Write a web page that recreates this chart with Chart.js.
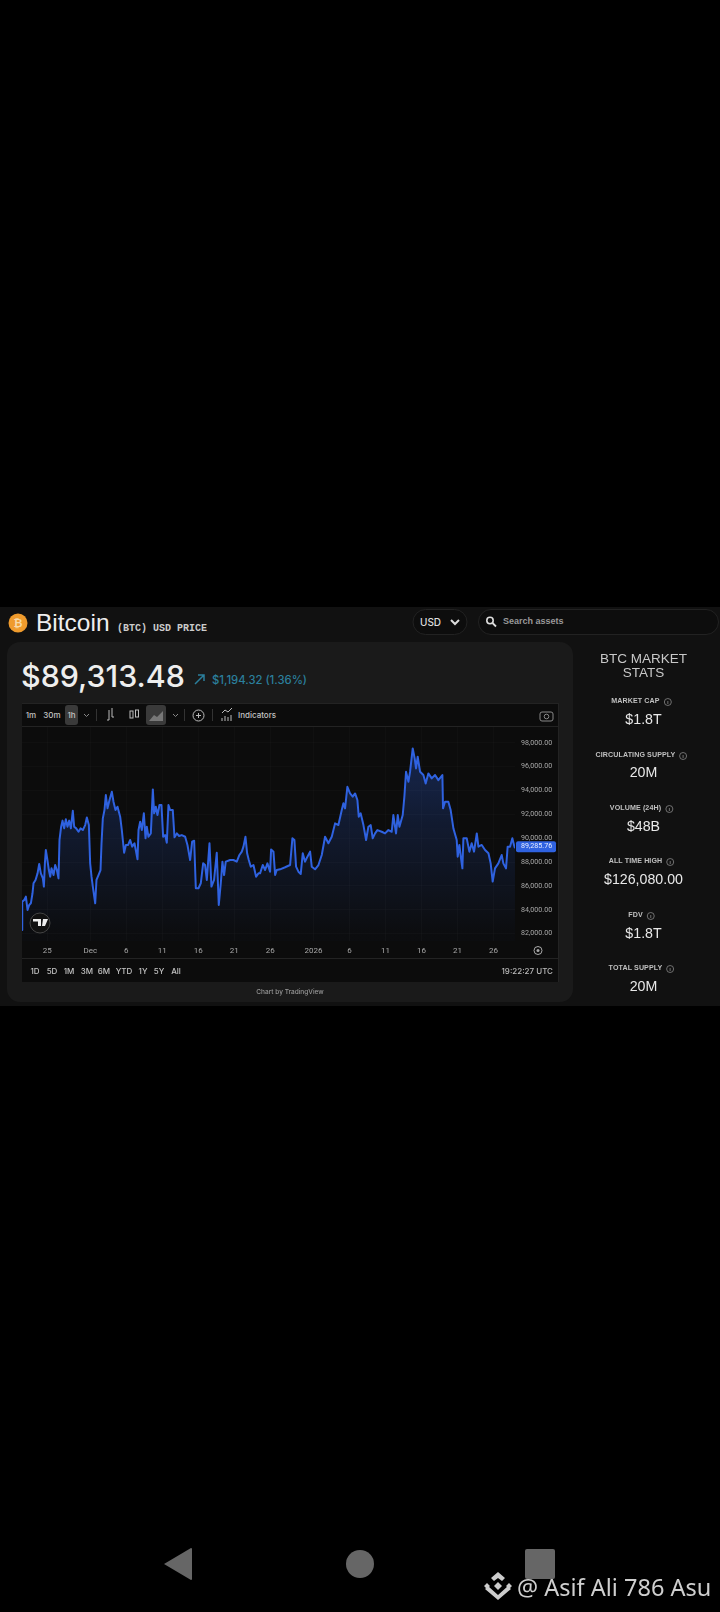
<!DOCTYPE html>
<html><head><meta charset="utf-8">
<script src="https://cdn.jsdelivr.net/npm/chart.js@4/dist/chart.umd.min.js"></script>
<style>
html,body{margin:0;padding:0;background:#000;width:720px;height:1612px;overflow:hidden;font-family:"Liberation Sans",sans-serif}
.a{position:absolute;white-space:nowrap}
.c{transform:translate(-50%,-50%)}
.m{transform:translateY(-50%)}
#wrap{position:absolute;left:0;top:0;width:720px;height:1612px;filter:blur(.45px)}
.lbl{font-size:7.1px;font-weight:700;color:#c0c0c0;letter-spacing:.1px}
.val{font-size:14.2px;color:#e8e8e8}
.t{font:500 8px Inter,sans-serif;color:#c4c4c4}
svg{position:absolute;overflow:visible}
</style></head><body>
<div id="wrap">
<div class="a" style="left:0;top:607px;width:720px;height:399px;background:#111"></div>
<div class="a" style="left:7px;top:642px;width:566px;height:360px;background:#1a1a1a;border-radius:13px"></div>
<svg style="left:0;top:0" width="720" height="1612">
 <circle cx="18" cy="623" r="9.5" fill="#ef9b2d"/>
 <rect x="413" y="609.5" width="54" height="25" rx="12.5" fill="#0d0d0d" stroke="#222"/>
 <path d="M451 620l4 4 4-4" fill="none" stroke="#ddd" stroke-width="2"/>
 <rect x="478.5" y="609.5" width="240" height="25" rx="12.5" fill="#0d0d0d" stroke="#222"/>
 <circle cx="490" cy="620.5" r="3.2" fill="none" stroke="#ddd" stroke-width="1.6"/><path d="M492.5 623l3.5 3.5" stroke="#ddd" stroke-width="1.8"/>
 <path d="M195 684l9-9M198 675h6v6" fill="none" stroke="#2b7f9c" stroke-width="1.5"/>
 <rect x="22" y="703" width="536" height="279" fill="#0c0c0c"/>
 <path d="M22 726.5h536M22 958.5h536M558.5 703v279M22 703.5h536" stroke="#232323" stroke-width="1"/>
 <rect x="65" y="705" width="13" height="20" rx="3" fill="#3a3a3a"/>
 <rect x="146" y="705" width="20" height="20" rx="3" fill="#3a3a3a"/>
 <path d="M84 714l2.5 2.5 2.5-2.5M173 714l2.5 2.5 2.5-2.5" fill="none" stroke="#888"/>
 <path d="M96.5 709v12M184.5 709v12M212.5 709v12" stroke="#333"/>
 <path d="M107 720h2v-10M112 708v9h2" fill="none" stroke="#bbb"/>
 <rect x="130" y="711" width="3" height="7" fill="none" stroke="#bbb"/><rect x="135.5" y="710" width="3" height="7" fill="none" stroke="#bbb"/>
 <path d="M149 721l5-6 3 2 6-6v10z" fill="#777"/>
 <circle cx="198.5" cy="715.5" r="5.5" fill="none" stroke="#bbb"/><path d="M196 715.5h5M198.5 713v5" stroke="#bbb"/>
 <path d="M222 713l3-3 3 2 4-4M222 721v-3M225 721v-5M228 721v-4M231 721v-6" fill="none" stroke="#bbb"/>
 <rect x="540" y="712" width="13" height="9" rx="2" fill="none" stroke="#888"/><circle cx="546.5" cy="716.5" r="2.3" fill="none" stroke="#888"/>
 <circle cx="538" cy="950.5" r="4" fill="none" stroke="#aaa"/><circle cx="538" cy="950.5" r="1.5" fill="#aaa"/>
 <path d="M164 1564l27-16q1 0 1 1v30q0 1-1 1z" fill="#666"/>
 <circle cx="360" cy="1564" r="14" fill="#666"/>
 <rect x="525" y="1549" width="30" height="30" rx="2" fill="#666"/>
 <path d="M498 1572l7 6-3 3-4-3-4 3-3-3zM498 1582l4 4-4 4-4-4zM488 1586l10 9 10-9 3 3-13 11-13-11zM484 1586l3-3 3 3-3 3zM506 1586l3-3 3 3-3 3z" fill="#ccc"/>
</svg>
<div class="a" style="left:18px;top:623px;font-size:11px;font-weight:700;color:#f7d9a8;transform:translate(-50%,-50%)">₿</div>
<div class="a m" style="left:36px;top:623px;font-size:24.5px;color:#eee">Bitcoin</div>
<div class="a m" style="left:117px;top:628px;font:700 10px 'Liberation Mono',monospace;color:#ccc">(BTC) USD PRICE</div>
<div class="a m" style="left:420px;top:622px;font:500 10px Inter,sans-serif;color:#ddd">USD</div>
<div class="a m" style="left:503px;top:621px;font-size:9px;font-weight:700;color:#999">Search assets</div>
<div class="a m" style="left:21px;top:676px;font:500 30.4px Inter,sans-serif;color:#eee">$89,313.48</div>
<div class="a m" style="left:212px;top:680px;font:500 11.3px Inter,sans-serif;color:#2b7f9c">$1,194.32 (1.36%)</div>
<div class="a c t" style="left:31px;top:715px">1m</div>
<div class="a c t" style="left:52px;top:715px">30m</div>
<div class="a c t" style="left:71.5px;top:715px">1h</div>
<div class="a m t" style="left:238px;top:715px">Indicators</div>

<div class="a" style="left:22px;top:727px;width:536px;height:231px"><canvas id="c" style="display:block;width:536px;height:231px"></canvas></div>
<svg style="left:0;top:0" width="720" height="1000">
 <circle cx="40" cy="923" r="10" fill="#111" stroke="#444"/>
 <path d="M33 919h8v7h-3v-4.5h-5zM43 919h5l-3 7h-3z" fill="#eee"/>
</svg>

<div class="a c t" style="left:35px;top:971px">1D</div>
<div class="a c t" style="left:52px;top:971px">5D</div>
<div class="a c t" style="left:69px;top:971px">1M</div>
<div class="a c t" style="left:87px;top:971px">3M</div>
<div class="a c t" style="left:104px;top:971px">6M</div>
<div class="a c t" style="left:124px;top:971px">YTD</div>
<div class="a c t" style="left:143px;top:971px">1Y</div>
<div class="a c t" style="left:159px;top:971px">5Y</div>
<div class="a c t" style="left:176px;top:971px">All</div>
<div class="a m t" style="right:167px;top:971px;color:#bbb">19:22:27 UTC</div>
<div class="a c" style="left:290px;top:992px;font:500 6.5px Inter,sans-serif;color:#999">Chart by TradingView</div>

<div class="a c" style="left:643.5px;top:657.5px;font-size:13.5px;color:#c8c8c8">BTC MARKET</div>
<div class="a c" style="left:643.5px;top:671.5px;font-size:13.5px;color:#c8c8c8">STATS</div>
<div id="stats"></div>
<div class="a m" style="left:517px;top:1587px;font:400 23.5px 'Noto Sans',sans-serif;color:#cfcfcf">@ Asif Ali 786 Asu</div>
</div>
<script>
const days = [-3.5,-3.47,-3.19,-2.96,-2.73,-2.5,-2.27,-2.04,-1.9,-1.62,-1.34,-1.11,-0.88,-0.6,-0.46,-0.32,-0.19,0,0.23,0.42,0.6,0.88,1.11,1.34,1.57,1.71,1.94,2.13,2.36,2.59,2.82,3.06,3.29,3.56,3.75,4.03,4.35,4.63,4.95,5.28,5.51,5.79,5.97,6.16,6.34,6.67,6.85,7.13,7.41,7.55,7.73,7.96,8.15,8.38,8.66,8.98,9.21,9.49,9.77,10.14,10.37,10.69,10.93,11.25,11.53,11.81,12.13,12.55,12.69,12.92,13.15,13.43,13.66,13.84,14.07,14.4,14.68,14.86,15.09,15.32,15.6,15.88,16.11,16.39,16.62,16.85,17.08,17.45,17.69,18.01,18.33,18.7,19.17,19.49,19.86,20.14,20.42,20.65,21.02,21.34,21.67,21.94,22.18,22.55,22.82,23.19,23.56,23.84,24.12,24.35,24.58,24.81,25.42,25.88,26.34,26.71,27.04,27.27,27.55,27.78,28.01,28.29,28.66,29.03,29.35,29.58,29.95,30.28,30.6,30.97,31.11,31.44,31.67,31.9,32.36,33.06,33.75,34.07,34.35,34.58,34.91,35.23,35.51,35.83,36.16,36.53,36.76,37.22,37.69,38.15,38.61,39.07,39.54,40,40.46,40.93,41.16,41.39,41.71,42.08,42.45,42.78,43.1,43.29,43.56,43.94,44.31,44.63,44.95,45.23,45.56,45.88,46.48,46.94,47.41,47.87,48.1,48.47,48.71,48.94,49.4,49.63,49.86,50.19,50.42,50.79,51.06,51.25,51.48,51.81,52.27,52.59,52.96,53.43,53.89,54.35,54.91,55,55.28,55.74,56.06,56.44,56.9,57.04,57.27,57.5,57.69,57.83,58.29,58.66,58.98,59.31,59.69,59.92,60.38,60.84,61.31,61.62,61.9,62.22,62.69,63.15,63.38,63.75,63.98,64.31,64.63,64.86,65];
const prices = [82310,84680,84820,85100,83980,84400,84540,85380,86220,86500,87050,87840,87050,86630,85940,87890,89010,88310,87330,86770,87470,86910,87750,87330,86630,89850,90960,91470,90820,91580,90960,91470,90820,92300,90960,90820,90540,90820,90680,91100,91740,91100,87890,86770,85940,84540,86500,86910,87330,89570,91660,92360,93610,92500,93200,93890,93060,92360,92640,91800,90680,88780,89430,89430,89850,89290,89570,88230,90680,91380,90680,92080,89990,90960,90120,90400,94090,92080,92640,91940,92780,92780,90120,90260,89620,92780,92360,92360,90070,90400,90180,90260,90120,89430,88170,89710,89790,85800,85800,86220,87890,87750,86500,89570,85940,86500,88780,84400,86220,88030,86910,88030,88170,88170,88030,88590,88870,89290,90120,88730,88170,87610,87750,86770,87050,87050,87750,87330,87890,87190,89060,88870,86910,87330,87390,87560,87750,89990,89850,87610,87190,87000,88730,88030,88450,88870,87610,87390,87750,88590,90120,89570,90120,91240,91100,92360,92920,92500,94310,93750,93480,93750,93200,91800,92080,91100,89850,90960,91100,89990,90400,90680,90540,90400,90680,90540,91940,90400,91940,90960,91940,93480,95570,94730,95570,97520,96690,95850,96830,95570,95290,94590,95430,95010,95290,94870,95290,92500,93060,93060,92360,90820,89850,88450,89430,88310,87470,89990,89990,88870,89570,88870,90400,89290,89430,89010,88730,87890,86360,87470,87890,88590,87890,87470,89290,89290,89990,89430,89150];
const priceTicks = [82000,84000,86000,88000,90000,92000,94000,96000,98000];
const dateTicks = [0,6,11,16,21,26,31,37,42,47,52,57,62];
const dateLabels = ["25","Dec","6","11","16","21","26","2026","6","11","16","21","26"];
const lastPrice = 89285.76;
const statLabels = ["MARKET CAP","CIRCULATING SUPPLY","VOLUME (24H)","ALL TIME HIGH","FDV","TOTAL SUPPLY"];
const statValues = ["$1.8T","20M","$48B","$126,080.00","$1.8T","20M"];

const statY = [701,754.5,808,861,915,968];
const sEl = document.getElementById('stats');
statLabels.forEach((l,i)=>{
  sEl.insertAdjacentHTML('beforeend',
   `<div class="a c lbl" style="left:641.5px;top:${statY[i]}px;padding-right:12px">${l}<svg width="8" height="8" style="right:0;top:1px"><circle cx="4" cy="4" r="3.5" fill="none" stroke="#888" stroke-width=".8"/><path d="M4 3v3" stroke="#888" stroke-width=".8"/></svg></div>
    <div class="a c val" style="left:643.5px;top:${statY[i]+17.5}px">${statValues[i]}</div>`);
});

const ctx = document.getElementById('c');
const priceTag = {
  id:'priceTag',
  afterDraw(ch){
    const g=ch.ctx, y=ch.scales.y.getPixelForValue(lastPrice), x=ch.chartArea.right+1;
    g.save();
    g.fillStyle='#2f62e0';
    g.beginPath(); g.roundRect(x,y-5.5,40,11,2); g.fill();
    g.fillStyle='#e6ecff'; g.font='7.1px Roboto'; g.textAlign='left'; g.textBaseline='middle';
    g.fillText(lastPrice.toLocaleString('en-US',{minimumFractionDigits:2}),x+5,y);
    g.restore();
  }
};
new Chart(ctx,{
  type:'line',
  data:{datasets:[{
    data:days.map((d,i)=>({x:d,y:prices[i]})),
    borderColor:'#2f62e0',borderWidth:2,pointRadius:0,tension:0,borderJoinStyle:'round',
    fill:'start',
    backgroundColor(c){
      const a=c.chart.chartArea; if(!a) return 'transparent';
      const s=c.chart.scales.y;
      const gr=c.chart.ctx.createLinearGradient(0,s.getPixelForValue(97000),0,s.getPixelForValue(82000));
      gr.addColorStop(0,'rgba(47,98,224,.30)');gr.addColorStop(.4,'rgba(47,98,224,.17)');gr.addColorStop(1,'rgba(47,98,224,.02)');
      return gr;
    }
  }]},
  plugins:[priceTag],
  options:{
    responsive:false,animation:false,devicePixelRatio:1,
    layout:{padding:0},
    plugins:{legend:{display:false},tooltip:{enabled:false}},
    scales:{
      x:{type:'linear',min:-3.5,max:65,
        grid:{color:'rgba(255,255,255,.018)',drawTicks:false},border:{display:false},
        afterBuildTicks(ax){ax.ticks=dateTicks.map(v=>({value:v}));},
        afterFit(ax){ax.height=17;ax.paddingLeft=0;ax.paddingRight=0;},
        ticks:{autoSkip:false,maxRotation:0,padding:5,color:'#a8a8a8',font:{family:'Roboto',size:8},
          callback(v){return dateLabels[dateTicks.indexOf(v)];}}},
      y:{position:'right',min:81380,max:99320,
        grid:{color:'rgba(255,255,255,.018)',drawTicks:false},border:{display:false},
        afterBuildTicks(ax){ax.ticks=priceTicks.map(v=>({value:v}));},
        afterFit(ax){ax.width=43;ax.paddingTop=0;ax.paddingBottom=0;},
        ticks:{padding:6,color:'#a8a8a8',font:{family:'Roboto',size:7.1},
          callback(v){return v.toLocaleString('en-US',{minimumFractionDigits:2});}}}
    }
  }
});
</script>
</body></html>
